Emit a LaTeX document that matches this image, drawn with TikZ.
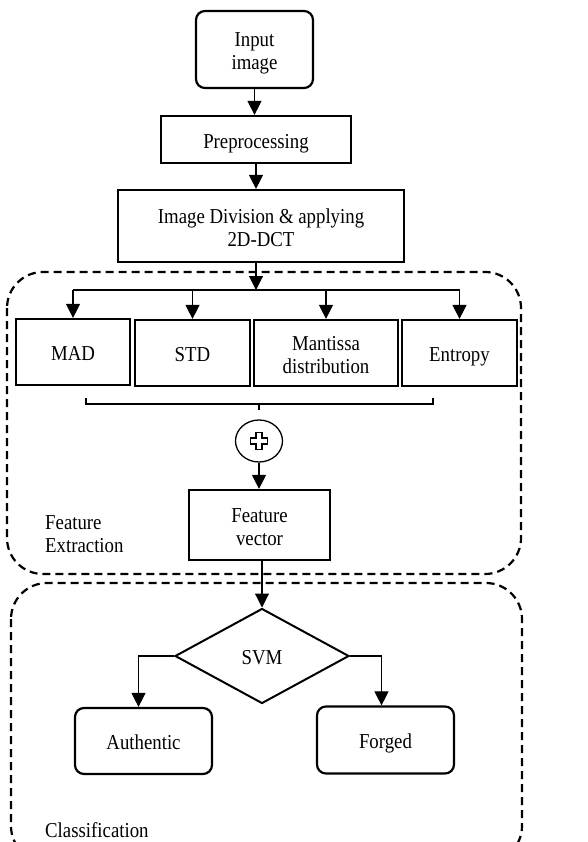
\documentclass[tikz,border=0pt]{standalone}
\usepackage{fontspec}
\usepackage{graphicx}
\setmainfont{Liberation Serif}
\usetikzlibrary{arrows.meta,shapes.geometric}
\newcommand{\Tc}[1]{\raisebox{0pt}[\dimexpr\height+8pt\relax]{\scalebox{1}[1.13]{\begin{tabular}{@{}c@{}}#1\end{tabular}}}}
\newcommand{\Tl}[1]{\raisebox{0pt}[\dimexpr\height+8pt\relax]{\scalebox{1}[1.13]{\begin{tabular}{@{}l@{}}#1\end{tabular}}}}
\begin{document}
\begin{tikzpicture}[x=1pt,y=-1pt,
  every node/.style={font=\fontsize{18.8}{20.35}\selectfont},
  box/.style={draw, line width=2.2pt, inner sep=0pt},
  rbox/.style={box, rounded corners=9pt},
  conn/.style={line width=1.1pt},
  arr/.style={conn, -{Triangle[length=14pt,width=14pt]}},
  region/.style={draw, line width=2.2pt, dash pattern=on 8pt off 5pt, rounded corners=36pt},
  lbl/.style={inner sep=0pt}
]
\useasboundingbox (0,0) rectangle (587,842);

% regions
\draw[region] (7,272) rectangle (521,574);
\begin{scope}
\clip (0,0) rectangle (587,842);
\draw[region] (11,583) rectangle (522,862);
\end{scope}

% nodes
\node[rbox, minimum width=117pt, minimum height=77pt] (inp) at (254.5,49.5) {\Tc{Input\\image}};
\node[box, minimum width=190pt, minimum height=47pt] (pre) at (256,139.5) {\Tc{Preprocessing}};
\node[box, minimum width=286pt, minimum height=72pt] (div) at (261,226) {\Tc{Image Division \& applying\\2D-DCT}};

\node[box, minimum width=114pt, minimum height=66pt] (mad) at (73,352) {\Tc{MAD}};
\node[box, minimum width=115pt, minimum height=66pt] (std) at (192.5,353) {\Tc{STD}};
\node[box, minimum width=144pt, minimum height=66pt] (man) at (326,353) {\Tc{Mantissa\\distribution}};
\node[box, minimum width=115pt, minimum height=66pt] (ent) at (459.5,353) {\Tc{Entropy}};

\node[draw, ellipse, line width=1.3pt, minimum width=47pt, minimum height=42pt, inner sep=0pt] (sum) at (259,441) {};
\draw[line width=1.2pt, shift={(sum.center)}]
  (-3,-8.5) -- (3,-8.5) -- (3,-3) -- (8.5,-3) -- (8.5,3) -- (3,3) -- (3,8.5)
  -- (-3,8.5) -- (-3,3) -- (-8.5,3) -- (-8.5,-3) -- (-3,-3) -- cycle;

\node[box, minimum width=141pt, minimum height=70pt] (fv) at (259.5,525) {\Tc{Feature\\vector}};

\node[draw, diamond, line width=2pt, minimum width=174pt, minimum height=95pt, inner sep=0pt, shape aspect=1.83] (svm) at (262,656) {\Tc{SVM}};

\node[rbox, minimum width=137pt, minimum height=66pt] (auth) at (143.5,741) {\Tc{Authentic}};
\node[rbox, minimum width=137pt, minimum height=67pt] (forg) at (385.5,740) {\Tc{Forged}};

% labels
\node[lbl, anchor=west] (felbl) at (45,532) {\Tl{Feature\\Extraction}};
\node[lbl, anchor=base west] (cllbl) at (45,837) {\scalebox{1}[1.13]{Classification}};

% connectors
\draw[arr] (inp.south) -- (inp.south |- pre.north);
\draw[arr] (pre.south) -- (pre.south |- div.north);
\coordinate (br) at (256,290);
\draw[arr] (div.south -| br) -- (br);
\draw[conn] (br -| mad.north) -- (br -| ent.north);
\draw[arr] (br -| mad.north) -- (mad.north);
\draw[arr] (br -| std.north) -- (std.north);
\draw[arr] (br -| man.north) -- (man.north);
\draw[arr] (br -| ent.north) -- (ent.north);

% brace
\coordinate (bl) at (86,398);
\coordinate (brr) at (433,398);
\coordinate (bm) at (259,404);
\draw[line width=1.1pt] (bl) -- (bl |- bm) -- (brr |- bm) -- (brr);
\draw[line width=1.1pt] (bm) -- ++(0,6);

\draw[arr] (sum.south) -- (sum.south |- fv.north);
\draw[arr] (fv.south -| svm.north) -- (svm.north);
\draw[arr] (svm.west) -| ([xshift=-5pt]auth.north);
\draw[arr] (svm.east) -| ([xshift=-4pt]forg.north);
\end{tikzpicture}
\end{document}
